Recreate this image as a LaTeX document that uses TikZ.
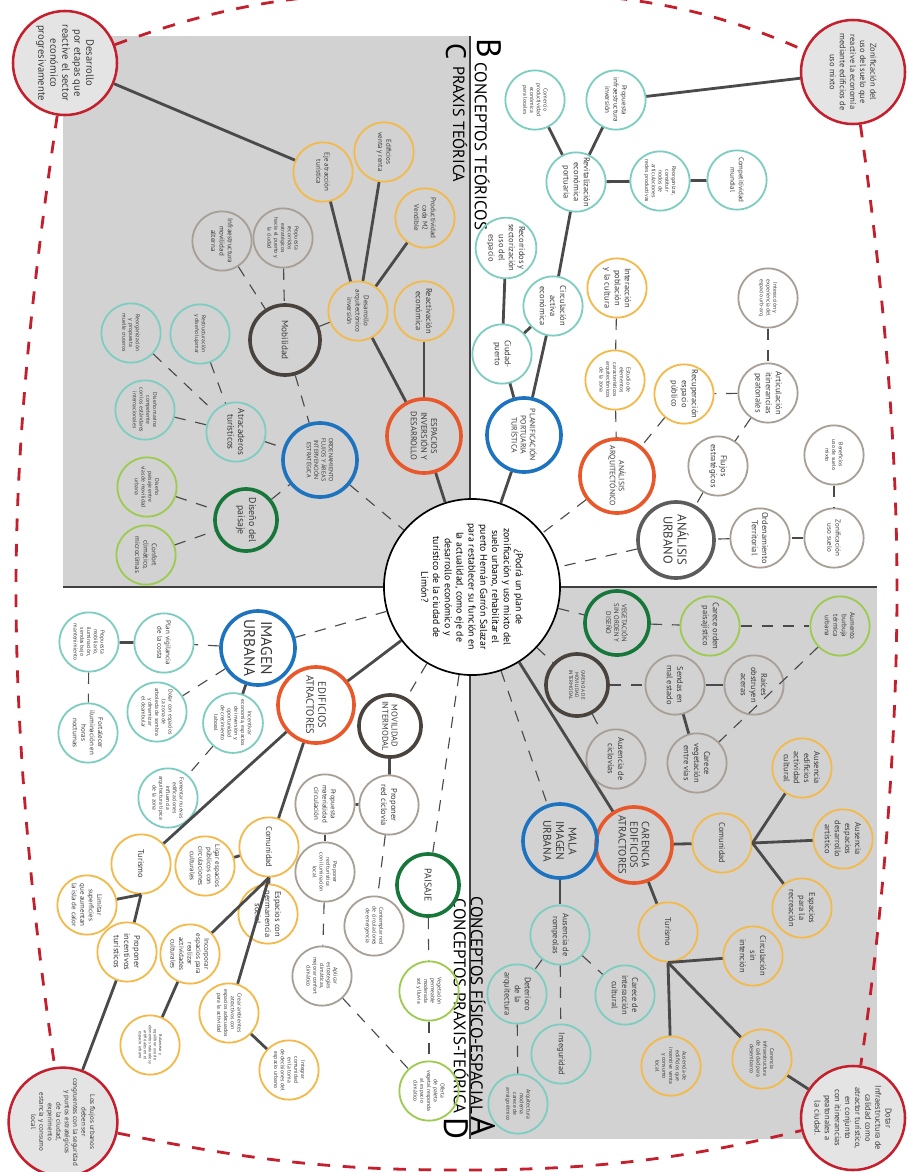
\documentclass[tikz,border=0pt]{standalone}
\usepackage{fontspec}
\setmainfont{PT Sans}
\usepackage{graphicx}
\usetikzlibrary{calc}

\definecolor{quadgray}{HTML}{D2D2D2}
\definecolor{goalred}{HTML}{C41F2D}
\definecolor{goalfill}{HTML}{E4E4E4}
\definecolor{linkgray}{HTML}{4A4A4A}
\definecolor{inkgray}{HTML}{3A3A3A}
\definecolor{hdorange}{HTML}{E9582B}
\definecolor{hdblue}{HTML}{1E73BE}
\definecolor{hdbrown}{HTML}{4A423D}
\definecolor{hdgray}{HTML}{5C5C5C}
\definecolor{hdgreen}{HTML}{17773A}
\definecolor{bubyellow}{HTML}{F3B94A}
\definecolor{bubteal}{HTML}{7ECDC1}
\definecolor{bubgreen}{HTML}{9DCB50}
\definecolor{bubtaupe}{HTML}{A89F96}

\newcommand{\txtXS}{\fontsize{3}{3.6}\selectfont}
\newcommand{\txtT}{\fontsize{4}{4.8}\selectfont}
\newcommand{\txtS}{\fontsize{5}{6}\selectfont}
\newcommand{\txtM}{\fontsize{6}{7.2}\selectfont}
\newcommand{\txtL}{\fontsize{7.5}{8.5}\selectfont}

\begin{document}
\begin{tikzpicture}[x=0.025cm, y=-0.025cm,
    every node/.style={text=inkgray},
    bub/.style={circle, draw, line width=1.3pt, minimum size=1.48cm, inner sep=0pt, align=center, rotate=-90, font=\txtM},
    ybub/.style={bub, draw=bubyellow},
    tbub/.style={bub, draw=bubteal},
    gbub/.style={bub, draw=bubgreen},
    pbub/.style={bub, draw=bubtaupe},
    head/.style={circle, draw, line width=2.6pt, minimum size=1.85cm, inner sep=0pt, align=center, rotate=-90, font=\txtM},
    hOra/.style={head, draw=hdorange},
    hBlu/.style={head, draw=hdblue},
    hBro/.style={head, draw=hdbrown, minimum size=1.55cm},
    hGrn/.style={head, draw=hdgreen, minimum size=1.55cm},
    hGry/.style={head, draw=hdgray, minimum size=1.9cm},
    goal/.style={circle, draw=goalred, fill=goalfill, line width=1.8pt, minimum size=2.6cm, inner sep=0pt, align=center, rotate=-90, font=\txtM},
    core/.style={circle, draw=black, fill=white, line width=1.2pt, minimum size=4.4cm, inner sep=0pt, align=center, rotate=-90, font=\fontsize{7}{8.4}\selectfont, text=black},
    tie/.style={draw=linkgray, line width=2pt},
    dtie/.style={draw=linkgray, line width=0.8pt, dash pattern=on 8pt off 7pt},
    rim/.style={draw=goalred, line width=2pt, dash pattern=on 9pt off 9pt},
    ttl/.style={rotate=-90, inner sep=0pt, text=black}
  ]
  \useasboundingbox (0,0) rectangle (908,1172);

  % quadrants
  \fill[quadgray] (63,36) rectangle (470,587);
  \fill[quadgray] (470,587) rectangle (877,1139);
  \draw[line width=1.4pt, black!75] (470,36) -- (470,1139);
  \draw[line width=1.4pt, black!75] (63,587) -- (877,587);

  % titles
  \node[ttl, font=\fontsize{20}{20}\selectfont] (tC) at (456,52) {C};
  \node[ttl, font=\fontsize{11.5}{11.5}\selectfont, anchor=west] (tCtxt) at (460,66) {PRAXIS TEÓRICA};
  \node[ttl, font=\fontsize{24}{24}\selectfont] (tB) at (489,48) {B};
  \node[ttl, font=\fontsize{12}{12}\selectfont, anchor=west] (tBtxt) at (482,62) {CONCEPTOS TEÓRICOS};
  \node[ttl, font=\fontsize{24}{24}\selectfont] (tA) at (483,1126) {A};
  \node[ttl, font=\fontsize{12}{12}\selectfont, anchor=east] (tAtxt) at (478,1114) {CONCEPTOS FÍSICO-ESPACIAL};
  \node[ttl, font=\fontsize{24}{24}\selectfont] (tD) at (456,1129) {D};
  \node[ttl, font=\fontsize{12}{12}\selectfont, anchor=east] (tDtxt) at (461,1114) {CONCEPTOS PRAXIS-TEÓRICA};

  % central question
  \node[core] (core) at (472,587) {¿Podrá un plan de\\zonificación y uso mixto del\\suelo urbano, rehabilitar el\\puerto Hernán Garrón Salazar\\para restablecer su función en\\la actualidad, como eje de\\desarrollo económico y\\turístico de la ciudad de\\Limón?};

  % corner goals
  \node[goal, font=\txtL] (gTL) at (65,63) {Desarrollo\\por etapas que\\reactive el sector\\económico\\progresivamente};
  \node[goal] (gTR) at (853,72) {Zonificación del\\uso del suelo que\\reactive la economía\\mediante edificios de\\uso mixto};
  \node[goal, font=\txtS] (gBL) at (63,1122) {Los flujos urbanos\\deben ser\\congruentes con la seguridad\\y puntos estratégicos\\de la ciudad,\\experimento\\estancia y consumo\\local};
  \node[goal] (gBR) at (853,1118) {Dotar\\Infraestructura de\\calidad como\\atractor turístico,\\en conjunto\\con itinerancias\\peatonales a\\la ciudad.};

  \draw[rim] (gTL) .. controls (250,-5) and (330,-8) .. (460,-8) .. controls (590,-8) and (680,-5) .. (gTR);
  \draw[rim] (gTL) .. controls (30,300) and (16,450) .. (16,590) .. controls (16,730) and (30,900) .. (gBL);
  \draw[rim] (gTR) .. controls (885,300) and (897,450) .. (897,590) .. controls (897,730) and (885,900) .. (gBR);
  \draw[rim] (gBL) .. controls (250,1160) and (330,1170) .. (460,1170) .. controls (590,1170) and (680,1160) .. (gBR);

  % C: praxis teorica
  \node[ybub, font=\txtS] (ejeat) at (323,172) {Eje atracción\\turística};
  \node[ybub, font=\txtS] (edven) at (384,152) {Edificios\\venta y renta};
  \node[ybub, font=\txtS] (prodm) at (425,218) {Productividad\\cada M2\\Vendible};
  \node[ybub] (react) at (424,311) {Reactivación\\económica};
  \node[ybub, font=\txtS] (desarq) at (358,311) {Desarrollo\\arquitectónico\\inversión};
  \node[pbub, font=\txtT] (proprec) at (283,238) {Propuesta\\recorridos\\estratégicos\\hacia el puerto y\\la ciudad};
  \node[pbub, font=\txtS] (infmov) at (222,241) {Infraestructura\\movilidad\\alterna};
  \node[hBro, minimum size=1.75cm, font=\fontsize{6.5}{7.5}\selectfont] (mobil) at (285,340) {Mobilidad};
  \node[tbub, font=\txtT] (restr) at (200,334) {Restructuración\\y diseño lujamar};
  \node[tbub, font=\txtT] (reorg) at (131,333) {Reorganización\\y propuesta\\muelle cruceros};
  \node[tbub, font=\txtT] (marina) at (145,410) {Diseño marina\\competente\\con los estándares\\internacionales};
  \node[tbub, font=\fontsize{6.5}{7.5}\selectfont] (atrac) at (236,432) {Atracaderos\\turísticos};
  \node[hBlu, font=\fontsize{4.3}{5.2}\selectfont] (ordfl) at (320,460) {ORDENAMIENTO\\FLUJOS Y ÁREAS\\INTERVENCIÓN\\ESTRATÉGICA};
  \node[hOra] (espinv) at (424,436) {ESPACIOS\\INVERSIÓN Y\\DESARROLLO};
  \node[gbub, font=\txtT] (dispv) at (147,487) {Diseño\\paisaje entre\\vías de movilidad\\urbana};
  \node[gbub, font=\txtS] (confc) at (146,555) {Confort\\climático,\\microclimas};
  \node[hGrn, font=\fontsize{7}{8}\selectfont] (dpais) at (246,520) {Diseño del\\paisaje};

  \draw[tie] (gTL) -- (ejeat);
  \draw[tie] (ejeat) -- (desarq);
  \draw[tie] (edven) -- (desarq);
  \draw[tie] (prodm) -- (desarq);
  \draw[tie] (desarq) -- (espinv);
  \draw[tie] (react) -- (espinv);
  \draw[tie] (espinv) -- (core);
  \draw[dtie] (infmov) -- (mobil);
  \draw[dtie] (proprec) -- (mobil);
  \draw[dtie] (desarq) -- (mobil);
  \draw[dtie] (mobil) -- (ordfl);
  \draw[dtie] (restr) -- (atrac);
  \draw[dtie] (reorg) -- (atrac);
  \draw[dtie] (marina) -- (atrac);
  \draw[dtie] (atrac) -- (ordfl);
  \draw[dtie] (dispv) -- (dpais);
  \draw[dtie] (confc) -- (dpais);
  \draw[dtie] (dpais) -- (ordfl);
  \draw[dtie] (ordfl) -- (core);

  % B: conceptos teoricos
  \node[tbub, font=\txtT] (comer) at (535,100) {Comercio\\productividad\\económica\\para locales};
  \node[tbub, font=\txtS] (propinf) at (616,100) {Propuesta\\infraestructura\\inversión};
  \node[tbub] (revit) at (576,182) {Revitalización\\económica\\portuaria};
  \node[tbub, font=\txtT] (reorgz) at (660,181) {Reorganizar,\\constituir\\nodos de\\articulaciones\\redes productivas};
  \node[tbub, font=\txtS] (compet) at (737,180) {Competitividad\\mundial};
  \node[tbub] (recor) at (506,248) {Recorridos y\\sectorización\\uso del\\espacio};
  \node[tbub] (circa) at (553,306) {Circulación\\activa\\económica};
  \node[tbub] (ciudp) at (502,354) {Ciudad-\\puerto};
  \node[ybub] (interp) at (617,288) {Interacción\\población\\y la cultura};
  \node[ybub, font=\txtT] (estud) at (615,380) {Estudio de\\elementos\\característicos\\arquitectónicos\\de la zona};
  \node[ybub] (recup) at (684,394) {Recuperación\\espacio\\público};
  \node[pbub, font=\txtT] (interx) at (768,298) {Interacción y\\experiencia del\\espacio urb-arq};
  \node[pbub] (artic) at (768,393) {Articulación\\itinerancias\\peatonales};
  \node[pbub] (flujos) at (718,466) {Flujos\\estratégicos};
  \node[pbub, font=\txtT] (benef) at (834,455) {Beneficios\\uso de suelo\\mixto};
  \node[hOra, font=\fontsize{5.5}{6.5}\selectfont] (anarq) at (617,476) {ANÁLISIS\\ARQUITECTÓNICO};
  \node[hBlu, font=\fontsize{5.5}{6.5}\selectfont] (planp) at (524,435) {PLANIFICACIÓN\\PORTUARIA\\TURÍSTICA};
  \node[hGry, font=\fontsize{9}{10}\selectfont] (anurb) at (676,540) {ANÁLISIS\\URBANO};
  \node[pbub] (ordter) at (760,538) {Ordenamiento\\Territorial};
  \node[pbub, font=\txtS] (zonif) at (834,538) {Zonificación\\uso suelo};

  \draw[tie] (gTR) -- (propinf);
  \draw[tie] (comer) -- (revit);
  \draw[tie] (propinf) -- (revit);
  \draw[tie] (revit) -- (reorgz);
  \draw[tie] (reorgz) -- (compet);
  \draw[tie] (revit) -- (circa);
  \draw[tie] (recor) -- (ciudp);
  \draw[tie] (circa) -- (ciudp);
  \draw[tie] (circa) -- (planp);
  \draw[tie] (ciudp) -- (planp);
  \draw[tie] (planp) -- (core);
  \draw[dtie] (interp) -- (estud);
  \draw[dtie] (estud) -- (anarq);
  \draw[dtie] (recup) -- (anarq);
  \draw[dtie] (artic) -- (recup);
  \draw[dtie] (interx) -- (artic);
  \draw[dtie] (artic) -- (flujos);
  \draw[dtie] (flujos) -- (anurb);
  \draw[dtie] (benef) -- (zonif);
  \draw[dtie] (zonif) -- (ordter);
  \draw[dtie] (ordter) -- (anurb);
  \draw[dtie] (anurb) -- (core);
  \draw[dtie] (anarq) -- (core);

  % A: conceptos fisico-espacial
  \node[hGrn, minimum size=1.6cm, font=\fontsize{4.8}{5.6}\selectfont] (veget) at (617,623) {VEGETACIÓN\\SIN ORDEN Y\\DISEÑO};
  \node[gbub] (carord) at (710,626) {Carece orden\\paisajístico};
  \node[gbub, font=\txtS] (aumen) at (840,626) {Aumento\\burbuja\\térmica\\urbana};
  \node[hBro, font=\fontsize{3.6}{4.4}\selectfont] (carmov) at (577,685) {CARENCIA DE\\MOVILIDAD\\INTERMODAL};
  \node[pbub] (sendas) at (675,685) {Sendas en\\mal estado};
  \node[pbub] (raices) at (754,685) {Raíces\\obstruyen\\aceras};
  \node[pbub] (ausci) at (616,759) {Ausencia de\\ciclovías};
  \node[pbub] (carveg) at (697,763) {Carece\\vegetación\\entre vías};
  \node[ybub] (ausedc) at (802,768) {Ausencia\\edificios\\actividad\\cultural};
  \node[hOra, minimum size=1.9cm, font=\fontsize{7.5}{8.3}\selectfont] (carenc) at (634,845) {CARENCIA\\EDIFICIOS\\ATRACTORES};
  \node[ybub] (comunA) at (722,843) {Comunidad};
  \node[ybub] (ausesp) at (843,839) {Ausencia\\espacios\\desarrollo\\artístico};
  \node[ybub] (esprec) at (802,908) {Espacios\\para la\\recreación};
  \node[hBlu, font=\fontsize{8}{9}\selectfont] (malaim) at (560,841) {MALA\\IMAGEN\\URBANA};
  \node[ybub] (turA) at (668,932) {Turismo};
  \node[ybub] (circsi) at (753,956) {Circulación\\sin\\intención};
  \node[ybub, font=\txtT] (carinf) at (762,1059) {Carencia\\infraestructura\\de calidad para\\desembarco};
  \node[ybub, font=\txtT] (ausven) at (671,1066) {Ausencia de\\edificios que\\incentive venta\\y consumo\\local};
  \node[tbub] (carint) at (625,995) {Carece de\\interacción\\cultural};
  \node[tbub] (rompe) at (560,935) {Ausencia de\\rompeolas};
  \node[tbub] (deter) at (517,994) {Deterioro\\de la\\arquitectura};
  \node[tbub] (insegu) at (561,1054) {Inseguridad};
  \node[tbub, font=\txtT] (arqmod) at (518,1104) {Arquitectura\\moderna\\carece de\\arraigo étnico};

  \draw[dtie] (core) -- (veget);
  \draw[dtie] (veget) -- (carord);
  \draw[dtie] (carord) -- (aumen);
  \draw[dtie] (aumen) -- (carveg);
  \draw[dtie] (core) -- (carmov);
  \draw[dtie] (carmov) -- (sendas);
  \draw[dtie] (carmov) -- (ausci);
  \draw[tie] (sendas) -- (raices);
  \draw[tie] (sendas) -- (carveg);
  \draw[tie] (core) -- (carenc);
  \draw[dtie] (core) -- (malaim);
  \draw[tie] (carenc) -- (comunA);
  \draw[tie] (comunA.north) -- (ausedc);
  \draw[tie] (comunA.north) -- (ausesp);
  \draw[tie] (comunA.north) -- (esprec);
  \draw[tie] (carenc) -- (turA);
  \draw[tie] (turA.east) -- (circsi);
  \draw[tie] (turA.east) -- (carinf);
  \draw[tie] (turA.east) -- (ausven);
  \draw[tie] (carinf) -- (gBR);
  \draw[tie] (malaim) -- (rompe);
  \draw[dtie] (rompe) -- (carint);
  \draw[dtie] (rompe) -- (deter);
  \draw[dtie] (rompe) -- (insegu);
  \draw[dtie] (deter) -- (arqmod);

  % D: conceptos praxis-teorica
  \node[hBlu, font=\fontsize{11}{12}\selectfont] (imgurb) at (258,648) {IMAGEN\\URBANA};
  \node[hOra, minimum size=1.9cm, font=\fontsize{7.5}{8.5}\selectfont] (edatr) at (316,705) {EDIFICIOS\\ATRACTORES};
  \node[hBro, font=\fontsize{6}{6.6}\selectfont] (movint) at (390,726) {MOVILIDAD\\INTERMODAL};
  \node[pbub] (proclv) at (389,805) {Proponer\\red ciclovía};
  \node[pbub, font=\txtS] (promat) at (325,804) {Propuesta\\materialidad\\circulación};
  \node[pbub, font=\txtT] (protur) at (325,872) {Proponer\\red turística\\con iluminación\\local};
  \node[hGrn, font=\fontsize{7}{8}\selectfont] (paisaje) at (428,885) {PAISAJE};
  \node[pbub, font=\txtT] (contem) at (374,926) {Contemplar red\\de circulaciones\\de emergencia};
  \node[pbub, font=\txtT] (aplic) at (322,976) {Aplicar\\estrategias\\climáticas,\\mejorar confort\\climático};
  \node[gbub, font=\txtT] (vegper) at (429,991) {Vegetación\\permeable\\moderada\\sol y lluvia};
  \node[gbub, font=\txtT] (ofert) at (429,1091) {Oferta\\de paleta\\vegetal responda\\al espacio\\climático};
  \node[ybub, font=\txtT] (integ) at (289,1070) {Integrar\\comunidad\\en la toma\\de decisiones del\\espacio urbano};
  \node[ybub, font=\txtT] (crear) at (229,1013) {Crear ambientes\\atractivos con\\espacios adecuados\\para la actividad};
  \node[ybub] (espperm) at (268,914) {Espacios con\\permanencia\\social};
  \node[ybub, font=\txtS] (incorp) at (190,954) {Incorporar\\espacios para\\realizar\\actividades\\culturales};
  \node[ybub, font=\txtXS] (balan) at (150,1045) {Balancear y\\equilibrar uso de\\elementos naturales y\\artificiales en el\\espacio urbano};
  \node[ybub] (proinc) at (127,952) {Proponer\\incentivos\\turísticos};
  \node[ybub, font=\txtS] (limit) at (87,905) {Limitar\\superficies\\que aumentan\\la isla de calor};
  \node[ybub] (turB) at (141,864) {Turismo};
  \node[ybub] (comunB) at (269,847) {Comunidad};
  \node[ybub, font=\txtS] (ligar) at (205,866) {Ligar espacios\\públicos con\\circulaciones\\culturales};
  \node[tbub, font=\txtS] (planv) at (164,643) {Plan vigilancia\\de la costa};
  \node[tbub, font=\txtT] (propmob) at (89,642) {Propuesta\\mobiliario,\\iluminación,\\sendas bajo\\mantenimiento};
  \node[tbub, font=\txtS] (fortal) at (88,733) {Fortalecer\\iluminación en\\horas\\nocturnas};
  \node[tbub, font=\txtT] (dotar) at (157,712) {Dotar con espacios\\la zona de\\arboleda de sombra\\y dinamizar\\el deambular};
  \node[tbub, font=\txtT] (incent) at (233,723) {Incentivar\\economía, espacios\\de inversión y\\oportunidad\\de crecimiento\\laboral};
  \node[tbub, font=\txtT] (foment) at (168,798) {Fomentar nuevas\\edificaciones\\influencia\\arquitectura típica\\de la zona};

  \draw[dtie] (core) -- (imgurb);
  \draw[tie] (core) -- (edatr);
  \draw[dtie] (core) -- (movint);
  \draw[dtie] (core) -- (paisaje);
  \draw[dtie] (imgurb) -- (planv);
  \draw[tie] (planv) -- (propmob);
  \draw[dtie] (propmob) -- (fortal);
  \draw[dtie] (imgurb) -- (dotar);
  \draw[tie] (imgurb) -- (incent);
  \draw[dtie] (incent) -- (foment);
  \draw[tie] (turB) -- (edatr);
  \draw[tie] (comunB) -- (edatr);
  \draw[tie] (comunB) -- (ligar);
  \draw[tie] (comunB.east) -- (incorp);
  \draw[tie] (comunB.east) -- (crear);
  \draw[tie] (comunB.east) -- (espperm);
  \draw[tie] (turB.east) -- (limit);
  \draw[tie] (turB.east) -- (proinc);
  \draw[tie] (proinc) -- (gBL);
  \draw[tie] (incorp) -- (balan);
  \draw[tie] (crear) -- (integ);
  \draw[tie] (movint) -- (proclv);
  \draw[tie] (proclv) -- (promat);
  \draw[tie] (promat) -- (protur);
  \draw[dtie] (proclv) -- (contem);
  \draw[dtie] (protur) -- (aplic);
  \draw[dtie] (aplic) -- (ofert);
  \draw[dtie] (paisaje) -- (vegper);
  \draw[dtie] (vegper) -- (ofert);
\end{tikzpicture}
\end{document}
